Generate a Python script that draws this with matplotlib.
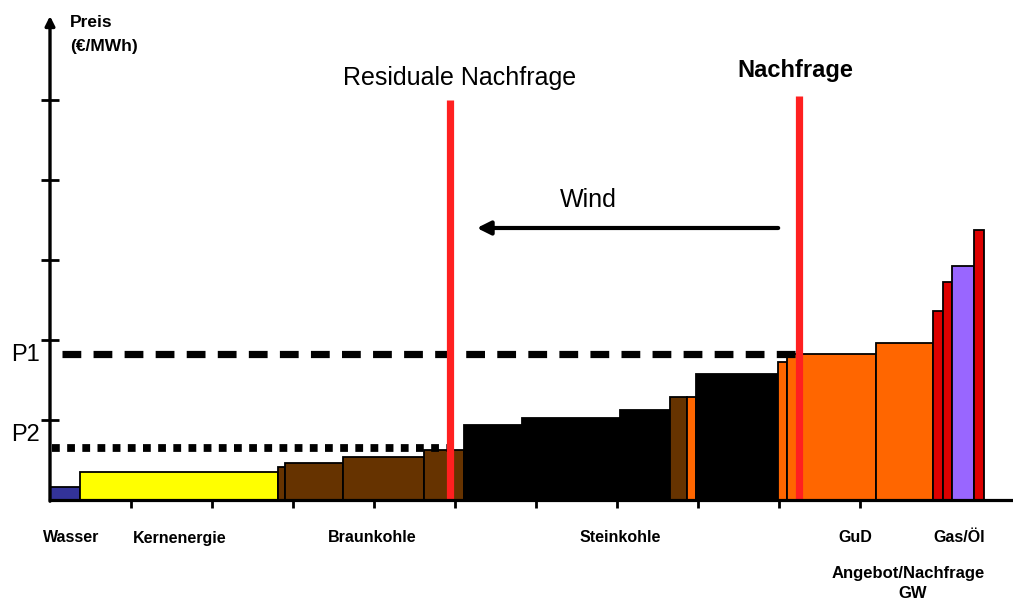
import matplotlib
matplotlib.use("Agg")
import matplotlib.pyplot as plt
import numpy as np

plt.rcParams['font.family'] = ['Liberation Sans', 'DejaVu Sans']

# ---- data (merit order) ----
capacity_gw = [3.7, 24.4, 0.9, 7.2, 10.0, 4.9, 7.2, 12.1, 6.2, 2.1, 1.1, 10.1,
               1.1, 11.0, 7.0, 1.2, 1.1, 2.8, 1.2]
price = [3.25, 7.0, 8.25, 9.25, 10.75, 12.5, 18.75, 20.5, 22.5, 25.75, 25.75,
         31.5, 34.5, 36.5, 39.25, 47.25, 54.5, 58.5, 67.5]
fuel = ['Wasser', 'Kern', 'Braun', 'Braun', 'Braun', 'Braun', 'Stein', 'Stein',
        'Stein', 'Braun', 'GuD', 'Stein', 'GuD', 'GuD', 'GuD', 'Oel', 'Oel',
        'Gas', 'Oel']
fuel_colors = {'Wasser': '#333399', 'Kern': '#FFFF00', 'Braun': '#663300',
               'Stein': '#000000', 'GuD': '#FF6600', 'Oel': '#DD0000',
               'Gas': '#9966FF'}

category_labels = ['Wasser', 'Kernenergie', 'Braunkohle', 'Steinkohle', 'GuD', 'Gas/Öl']
category_x = [2.6, 16.0, 39.8, 70.4, 99.4, 112.3]

demand = 92.5          # GW
residual_demand = 49.4  # GW
P1 = 36.5
P2 = 13.0
wind_from, wind_to = 89.9, 52.7
wind_y = 68.0

x_ticks = [10, 20, 30, 40, 50, 60, 70, 80, 90, 100]
y_ticks = [20, 40, 60, 80, 100]

# ---- figure ----
fig = plt.figure(figsize=(10.13, 6.01), dpi=100)
ax = fig.add_axes([50/1013, 101/601, 963/1013, 484/601])
ax.set_xlim(0, 963/8.1)
ax.set_ylim(0, 121)

lefts = np.concatenate([[0], np.cumsum(capacity_gw)[:-1]])
ax.bar(lefts, price, width=capacity_gw, align='edge',
       color=[fuel_colors[f] for f in fuel], edgecolor='black', linewidth=1.3,
       zorder=2)

# price lines
ax.plot([1.5, demand], [P1, P1], color='black', lw=5.2,
        linestyle=(0, (2.6, 1.7)), solid_capstyle='butt', dash_capstyle='butt', zorder=3)
ax.plot([0.3, residual_demand], [P2, P2], color='black', lw=5.6,
        linestyle=(0, (1.0, 0.95)), dash_capstyle='butt', zorder=3)

# demand lines
ax.plot([residual_demand, residual_demand], [0, 100], color='#FF2020', lw=5.2,
        solid_capstyle='butt', zorder=4)
ax.plot([demand, demand], [0, 101], color='#FF2020', lw=5.2,
        solid_capstyle='butt', zorder=4)

# wind arrow
ax.annotate('', xy=(wind_to, wind_y), xytext=(wind_from, wind_y),
            arrowprops=dict(arrowstyle='-|>', lw=3, color='black',
                            mutation_scale=20, shrinkA=0, shrinkB=0))

# axes styling
for s in ['top', 'right', 'left']:
    ax.spines[s].set_visible(False)
ax.spines['bottom'].set_linewidth(2.3)
ax.spines['bottom'].set_zorder(5)
ax.annotate('', xy=(0, 121), xytext=(0, -0.3), xycoords='data',
            arrowprops=dict(arrowstyle='-|>', lw=2.4, color='black',
                            mutation_scale=14, shrinkA=0, shrinkB=0),
            annotation_clip=False, zorder=6)
ax.set_xticks(x_ticks)
ax.set_yticks(y_ticks)
ax.set_xticklabels([])
ax.set_yticklabels([])
ax.tick_params(axis='x', direction='out', length=6, width=2)
ax.tick_params(axis='y', direction='inout', length=13, width=2)
ax.patch.set_visible(False)

# texts
ax.text(2.5, 119.3, 'Preis', fontsize=12.5, fontweight='bold', ha='left', va='center')
ax.text(2.5, 113.5, '(€/MWh)', fontsize=12.5, fontweight='bold', ha='left', va='center')
ax.text(50.6, 105.5, 'Residuale Nachfrage', fontsize=18, ha='center', va='center')
ax.text(92.0, 107.3, 'Nachfrage', fontsize=17, fontweight='bold', ha='center', va='center')
ax.text(66.5, 75.0, 'Wind', fontsize=18, ha='center', va='center')
ax.text(-4.8, 36.3, 'P1', fontsize=17, ha='left', va='center')
ax.text(-4.8, 16.2, 'P2', fontsize=17, ha='left', va='center')

for lab, xc in zip(category_labels, category_x):
    ax.text(xc, -9.5, lab, fontsize=11.5, fontweight='bold', ha='center', va='center')
ax.text(105.9, -18.3, 'Angebot/Nachfrage', fontsize=12, fontweight='bold',
        ha='center', va='center')
ax.text(106.5, -23.4, 'GW', fontsize=12, fontweight='bold', ha='center', va='center')

fig.savefig('out.png', dpi=100)
